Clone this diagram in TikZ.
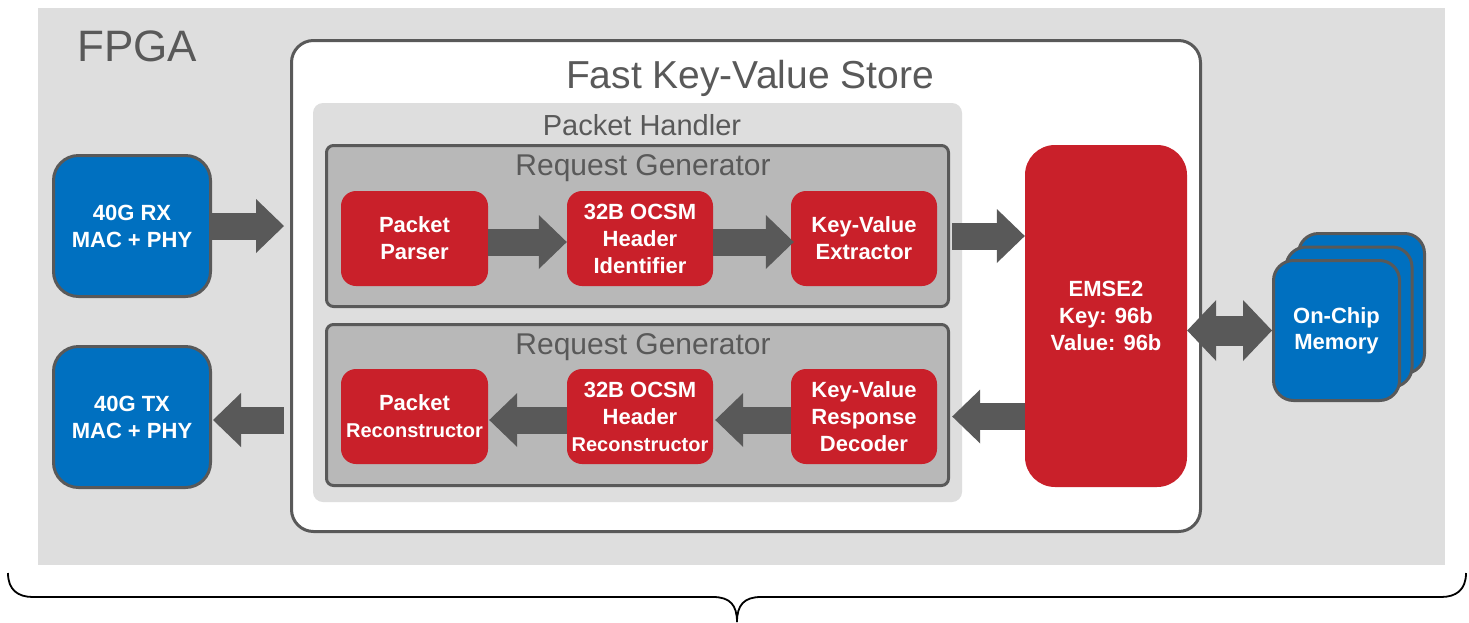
\documentclass[tikz,border=0pt]{standalone}
\usepackage{fontspec}
\setmainfont{Liberation Sans}
\usetikzlibrary{arrows.meta,calc}
\definecolor{bggray}{HTML}{DEDEDE}
\definecolor{dgray}{HTML}{595959}
\definecolor{rggray}{HTML}{B8B8B8}
\definecolor{kred}{HTML}{C9202A}
\definecolor{kblue}{HTML}{0070C0}
\begin{document}
\begin{tikzpicture}[x=1pt,y=-1pt,
  redbox/.style={rectangle,rounded corners=15pt,fill=kred,text=white,font=\fontsize{22}{27}\selectfont\bfseries,align=center,minimum width=147pt,minimum height=95pt,inner sep=0pt},
  bluebox/.style={rectangle,rounded corners=25pt,fill=kblue,draw=dgray,line width=3pt,text=white,font=\fontsize{22}{27}\selectfont\bfseries,align=center,minimum width=157pt,minimum height=141pt,inner sep=0pt},
  membox/.style={rectangle,rounded corners=20pt,fill=kblue,draw=dgray,line width=3pt,text=white,font=\fontsize{22}{26}\selectfont\bfseries,align=center,minimum width=126pt,minimum height=140pt,inner sep=0pt},
  rgbox/.style={rectangle,rounded corners=7pt,fill=rggray,draw=dgray,line width=3pt,minimum width=622pt,minimum height=161pt,inner sep=0pt},
  fat/.style={draw=dgray,line width=27pt,-{Triangle[length=28pt,width=54pt,line width=0pt]}},
  fatd/.style={draw=dgray,line width=30pt,{Triangle[length=29pt,width=61pt,line width=0pt]}-{Triangle[length=29pt,width=61pt,line width=0pt]}},
  title/.style={text=dgray,anchor=base,inner sep=0pt},
  recon/.style={font=\fontsize{20}{25}\selectfont\bfseries}
]
\useasboundingbox (0,0) rectangle (1469,622);
% background
\node[fill=bggray,minimum width=1407pt,minimum height=557pt,inner sep=0pt,anchor=north west] (fpga) at (38,8) {};
\node[title,font=\fontsize{44}{44}\selectfont,anchor=base west] (tfpga) at (77,61) {FPGA};
% KV store
\node[draw=dgray,line width=3pt,fill=white,rounded corners=22pt,minimum width=909pt,minimum height=491pt,inner sep=0pt] (kv) at (746,286) {};
\node[title,font=\fontsize{39}{39}\selectfont] (tkv) at (750,88) {Fast Key-Value Store};
% packet handler
\node[fill=bggray,rounded corners=10pt,minimum width=649pt,minimum height=399pt,inner sep=0pt] (ph) at (637.5,302.5) {};
\node[title,font=\fontsize{29}{29}\selectfont] (tph) at (642,135) {Packet Handler};
\node[rgbox] (rg1) at (637.5,226) {};
\node[rgbox] (rg2) at (637.5,405) {};
\node[title,font=\fontsize{30}{30}\selectfont] (trg1) at (643,175) {Request Generator};
\node[title,font=\fontsize{30}{30}\selectfont] (trg2) at (643,354) {Request Generator};
% red boxes
\node[redbox] (pp) at (414.5,238.5) {Packet\\Parser};
\node[redbox,minimum width=146pt] (hi) at (640,238.5) {32B OCSM\\Header\\Identifier};
\node[redbox,minimum width=146pt] (kve) at (864,238.5) {Key-Value\\Extractor};
\node[redbox] (pr) at (414.5,416.5) {Packet\\{\fontsize{20}{25}\selectfont Reconstructor}};
\node[redbox,minimum width=146pt] (hr) at (640,416.5) {32B OCSM\\Header\\{\fontsize{20}{25}\selectfont Reconstructor}};
\node[redbox,minimum width=146pt] (kvrd) at (864,416.5) {Key-Value\\Response\\Decoder};
\node[redbox,rounded corners=30pt,minimum width=162pt,minimum height=342pt] (emse) at (1106,316) {EMSE2\\Key: 96b\\Value: 96b};
% blue boxes
\node[bluebox] (rx) at (132,226) {40G RX\\MAC + PHY};
\node[bluebox] (tx) at (132,417) {40G TX\\MAC + PHY};
\node[membox] (mem3) at (1361.5,303.5) {};
\node[membox] (mem2) at (1349,317) {};
\node[membox] (mem1) at (1336.5,330.5) {On-Chip\\Memory};
% arrows
\draw[fat] (rx.east) -- ($(rx.east -| kv.west)+(-6,0)$);
\draw[fat] ($(tx.east -| kv.west)+(-6,3)$) -- ($(tx.east)+(1,3)$);
\draw[fat] ($(pp.east)+(0,3.5)$) -- ($(hi.west)+(0,3.5)$);
\draw[fat] ($(hi.east)+(0,3.5)$) -- ($(kve.west)+(3,3.5)$);
\draw[fat] ($(kve.east)+(15,-2.5)$) -- ($(kve.east -| emse.west)+(0,-2.5)$);
\draw[fat] (kvrd.east -| emse.west) -- ($(kvrd.east)+(15,0)$);
\draw[fat] ($(kvrd.west)+(0,3.5)$) -- ($(hr.east)+(2,3.5)$);
\draw[fat] ($(hr.west)+(0,3.5)$) -- ($(pr.east)+(1,3.5)$);
\draw[fatd] (mem1.west -| emse.east) -- (mem1.west);
% brace
\draw[line width=1.8pt] (8,573) .. controls (8,590) and (18,597) .. (33,597) -- (713,597) .. controls (730,597) and (737,605) .. (737,622);
\draw[line width=1.8pt] (1466,573) .. controls (1466,590) and (1456,597) .. (1441,597) -- (761,597) .. controls (744,597) and (737,605) .. (737,622);
\end{tikzpicture}
\end{document}
